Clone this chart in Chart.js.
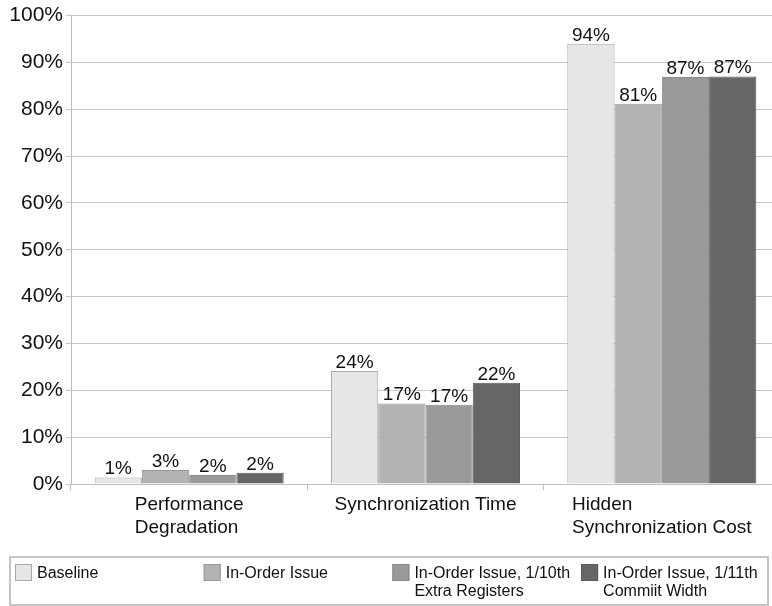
<!DOCTYPE html>
<html>
<head>
<meta charset="utf-8">
<title>Synchronization overhead</title>
<script src="https://cdn.jsdelivr.net/npm/chart.js@4/dist/chart.umd.min.js"></script>
<style>
  html, body { margin: 0; padding: 0; background: #fff; overflow: hidden; }
  #chart { display: block; }
</style>
</head>
<body>
<canvas id="chart" width="780" height="606"></canvas>
<script>
// Categories (multi-line labels are drawn left-aligned by the xLabels plugin)
const categories = [
    ['Performance', 'Degradation'],
    ['Synchronization Time'],
    ['Hidden', 'Synchronization Cost']
];

// Series, one value per category (percent)
const baseline = [1.4, 24.1, 94.0];
const inOrder = [3.0, 17.2, 81.2];
const inOrderRegs = [1.9, 16.9, 86.9];
const inOrderCommit = [2.4, 21.6, 87.0];

const seriesNames = [
    ['Baseline'],
    ['In-Order Issue'],
    ['In-Order Issue, 1/10th', 'Extra Registers'],
    ['In-Order Issue, 1/11th', 'Commiit Width']
];
const seriesFill = ['#e6e6e6', '#b3b3b3', '#9a9a9a', '#666666'];
const seriesBorder = ['#a8a8a8', '#999999', '#888888', '#5a5a5a'];

const yTicks = [0, 10, 20, 30, 40, 50, 60, 70, 80, 90, 100];

const FONT = '"Liberation Sans", Arial, Helvetica, sans-serif';
const TEXT = '#111111';

// Percent labels above every bar
const valueLabels = {
    id: 'valueLabels',
    afterDatasetsDraw(chart) {
        const ctx = chart.ctx;
        ctx.save();
        ctx.font = '19px ' + FONT;
        ctx.fillStyle = TEXT;
        ctx.textAlign = 'center';
        ctx.textBaseline = 'alphabetic';
        chart.data.datasets.forEach((ds, di) => {
            chart.getDatasetMeta(di).data.forEach((bar, i) => {
                ctx.fillText(Math.round(ds.data[i]) + '%', bar.x, bar.y - 3);
            });
        });
        ctx.restore();
    }
};

// Category labels: block centred under the group, lines left-aligned
const xLabels = {
    id: 'xLabels',
    afterDraw(chart) {
        const ctx = chart.ctx;
        const xs = chart.scales.x;
        const bottom = chart.chartArea.bottom;
        ctx.save();
        ctx.font = '19px ' + FONT;
        ctx.fillStyle = TEXT;
        ctx.textAlign = 'left';
        ctx.textBaseline = 'alphabetic';
        categories.forEach((lines, i) => {
            const cx = xs.getPixelForValue(i);
            const w = Math.max(...lines.map(l => ctx.measureText(l).width));
            lines.forEach((line, j) => {
                ctx.fillText(line, cx - w / 2, bottom + 26 + j * 23);
            });
        });
        ctx.restore();
    }
};

// Boxed legend across the bottom
const boxLegend = {
    id: 'boxLegend',
    afterDraw(chart) {
        const ctx = chart.ctx;
        ctx.save();
        ctx.strokeStyle = '#c4c4c4';
        ctx.lineWidth = 2;
        ctx.strokeRect(10, 557, 758, 48);
        ctx.font = '16px ' + FONT;
        ctx.textBaseline = 'alphabetic';
        chart.data.datasets.forEach((ds, i) => {
            const x = 15 + i * 188.7;
            ctx.fillStyle = ds.backgroundColor;
            ctx.fillRect(x, 564, 17, 17);
            ctx.strokeStyle = ds.borderColor;
            ctx.lineWidth = 1;
            ctx.strokeRect(x + 0.5, 564.5, 16, 16);
            ctx.fillStyle = TEXT;
            seriesNames[i].forEach((line, j) => {
                ctx.fillText(line, x + 22, 578 + j * 18);
            });
        });
        ctx.restore();
    }
};

const datasets = [baseline, inOrder, inOrderRegs, inOrderCommit].map((data, i) => ({
    label: seriesNames[i].join(' '),
    data: data,
    backgroundColor: seriesFill[i],
    borderColor: seriesBorder[i],
    borderWidth: 1,
    categoryPercentage: 0.8,
    barPercentage: 1.0
}));

new Chart(document.getElementById('chart'), {
    type: 'bar',
    data: {
        labels: categories,
        datasets: datasets
    },
    options: {
        responsive: false,
        animation: false,
        layout: { padding: { top: 7, right: 0, bottom: 0, left: 0 } },
        plugins: {
            legend: { display: false },
            tooltip: { enabled: false }
        },
        scales: {
            x: {
                grid: {
                    display: true,
                    drawOnChartArea: false,
                    drawTicks: true,
                    tickLength: 6,
                    color: '#c0c0c0',
                    offset: true
                },
                border: { color: '#c0c0c0' },
                ticks: { display: false },
                afterFit(scale) { scale.height = 122; }
            },
            y: {
                min: 0,
                max: 100,
                afterBuildTicks(scale) {
                    scale.ticks = yTicks.map(v => ({ value: v }));
                },
                grid: {
                    color: '#c8c8c8',
                    tickLength: 5
                },
                border: { color: '#bdbdbd' },
                ticks: {
                    color: TEXT,
                    padding: 3,
                    font: { size: 21, family: FONT },
                    callback: v => v + '%'
                },
                afterFit(scale) { scale.width = 71; }
            }
        }
    },
    plugins: [valueLabels, xLabels, boxLegend]
});
</script>
</body>
</html>
